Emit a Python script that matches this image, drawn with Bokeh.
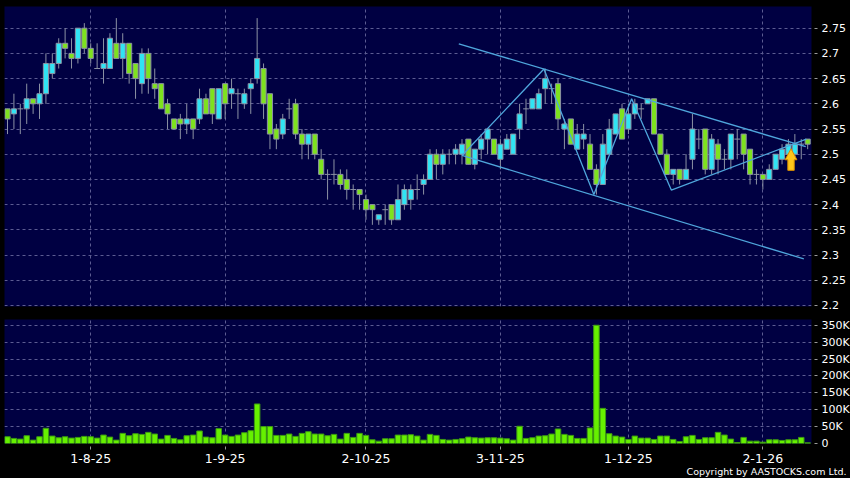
from bokeh.plotting import figure
from bokeh.layouts import column
from bokeh.models import Range1d, FixedTicker, Title
from bokeh.embed import file_html
from bokeh.resources import INLINE

# ---------------- data ----------------
opens = [2.59, 2.58, 2.59, 2.59, 2.61, 2.60, 2.62, 2.66, 2.68, 2.72,
         2.70, 2.69, 2.75, 2.71, 2.67, 2.67, 2.67, 2.72, 2.69, 2.72,
         2.68, 2.64, 2.70, 2.64, 2.64, 2.60, 2.57, 2.57, 2.56, 2.57,
         2.57, 2.61, 2.63, 2.57, 2.64, 2.62, 2.62, 2.60, 2.63, 2.65,
         2.67, 2.62, 2.55, 2.54, 2.59, 2.60, 2.54, 2.52, 2.54, 2.49,
         2.46, 2.46, 2.46, 2.45, 2.43, 2.43, 2.41, 2.40, 2.37, 2.39,
         2.40, 2.37, 2.40, 2.41, 2.43, 2.44, 2.45, 2.50, 2.48, 2.50,
         2.50, 2.50, 2.53, 2.48, 2.51, 2.53, 2.53, 2.49, 2.51, 2.50,
         2.55, 2.59, 2.59, 2.59, 2.63, 2.63, 2.64, 2.55, 2.57, 2.51,
         2.53, 2.52, 2.47, 2.44, 2.50, 2.54, 2.59, 2.55, 2.58, 2.59,
         2.60, 2.61, 2.54, 2.50, 2.46, 2.47, 2.45, 2.49, 2.53, 2.55,
         2.47, 2.52, 2.49, 2.49, 2.53, 2.54, 2.51, 2.46, 2.46, 2.45,
         2.47, 2.49, 2.50, 2.50, 2.52, 2.53]
highs = [2.59, 2.62, 2.60, 2.64, 2.61, 2.64, 2.70, 2.70, 2.73, 2.75,
         2.73, 2.75, 2.76, 2.72, 2.72, 2.73, 2.74, 2.77, 2.74, 2.72,
         2.68, 2.71, 2.71, 2.67, 2.64, 2.61, 2.57, 2.58, 2.60, 2.57,
         2.63, 2.62, 2.63, 2.63, 2.64, 2.65, 2.63, 2.63, 2.65, 2.77,
         2.68, 2.62, 2.56, 2.58, 2.61, 2.61, 2.55, 2.54, 2.54, 2.51,
         2.47, 2.49, 2.47, 2.47, 2.44, 2.43, 2.42, 2.40, 2.38, 2.40,
         2.40, 2.44, 2.44, 2.44, 2.46, 2.46, 2.51, 2.51, 2.51, 2.51,
         2.52, 2.53, 2.53, 2.51, 2.54, 2.55, 2.53, 2.53, 2.54, 2.54,
         2.60, 2.61, 2.61, 2.63, 2.67, 2.64, 2.65, 2.57, 2.57, 2.56,
         2.56, 2.54, 2.48, 2.54, 2.57, 2.58, 2.60, 2.60, 2.61, 2.60,
         2.61, 2.61, 2.54, 2.51, 2.47, 2.47, 2.50, 2.58, 2.55, 2.55,
         2.54, 2.53, 2.51, 2.54, 2.55, 2.54, 2.51, 2.47, 2.46, 2.48,
         2.50, 2.52, 2.53, 2.54, 2.53, 2.53]
lows = [2.54, 2.55, 2.54, 2.56, 2.58, 2.57, 2.60, 2.65, 2.67, 2.69,
        2.67, 2.68, 2.70, 2.68, 2.67, 2.64, 2.67, 2.69, 2.65, 2.64,
        2.61, 2.62, 2.62, 2.61, 2.59, 2.55, 2.55, 2.53, 2.54, 2.53,
        2.56, 2.58, 2.56, 2.57, 2.57, 2.59, 2.57, 2.59, 2.58, 2.64,
        2.57, 2.51, 2.51, 2.53, 2.57, 2.53, 2.49, 2.49, 2.49, 2.45,
        2.41, 2.44, 2.43, 2.41, 2.39, 2.39, 2.37, 2.36, 2.36, 2.36,
        2.36, 2.37, 2.39, 2.39, 2.41, 2.42, 2.45, 2.45, 2.46, 2.48,
        2.48, 2.48, 2.48, 2.47, 2.49, 2.50, 2.50, 2.47, 2.51, 2.50,
        2.53, 2.56, 2.59, 2.59, 2.60, 2.60, 2.55, 2.51, 2.52, 2.51,
        2.51, 2.47, 2.42, 2.44, 2.50, 2.54, 2.53, 2.54, 2.57, 2.57,
        2.60, 2.54, 2.50, 2.46, 2.44, 2.44, 2.45, 2.47, 2.51, 2.46,
        2.46, 2.46, 2.47, 2.47, 2.49, 2.47, 2.44, 2.44, 2.43, 2.45,
        2.47, 2.48, 2.48, 2.49, 2.49, 2.51]
closes = [2.57, 2.59, 2.59, 2.61, 2.60, 2.62, 2.68, 2.68, 2.72, 2.71,
          2.69, 2.75, 2.71, 2.69, 2.67, 2.68, 2.73, 2.69, 2.72, 2.66,
          2.65, 2.70, 2.65, 2.63, 2.59, 2.58, 2.55, 2.56, 2.57, 2.55,
          2.61, 2.58, 2.58, 2.63, 2.60, 2.63, 2.62, 2.62, 2.64, 2.69,
          2.60, 2.54, 2.53, 2.57, 2.59, 2.54, 2.52, 2.54, 2.50, 2.46,
          2.46, 2.46, 2.44, 2.43, 2.43, 2.42, 2.39, 2.39, 2.38, 2.39,
          2.37, 2.41, 2.43, 2.43, 2.43, 2.45, 2.50, 2.48, 2.50, 2.50,
          2.51, 2.52, 2.48, 2.51, 2.53, 2.55, 2.50, 2.52, 2.53, 2.54,
          2.58, 2.59, 2.61, 2.62, 2.65, 2.63, 2.57, 2.56, 2.52, 2.54,
          2.54, 2.47, 2.44, 2.52, 2.55, 2.58, 2.53, 2.58, 2.60, 2.59,
          2.61, 2.54, 2.50, 2.46, 2.47, 2.45, 2.47, 2.55, 2.53, 2.47,
          2.53, 2.49, 2.49, 2.54, 2.53, 2.50, 2.46, 2.46, 2.45, 2.47,
          2.50, 2.51, 2.52, 2.52, 2.52, 2.52]
volumes_k = [20, 15, 13, 23, 10, 20, 45, 22, 17, 20,
             16, 18, 21, 20, 16, 25, 19, 10, 30, 23,
             29, 27, 33, 28, 13, 24, 15, 11, 23, 25,
             37, 19, 17, 44, 25, 21, 25, 32, 38, 117,
             50, 50, 24, 24, 28, 21, 30, 35, 28, 28,
             23, 27, 13, 30, 18, 30, 24, 11, 7, 14,
             14, 25, 25, 26, 22, 10, 27, 24, 12, 10,
             12, 14, 19, 17, 16, 17, 17, 16, 14, 10,
             51, 15, 17, 22, 23, 28, 43, 27, 24, 15,
             15, 46, 350, 104, 29, 22, 19, 12, 22, 16,
             16, 12, 22, 22, 12, 6, 20, 24, 12, 17,
             17, 33, 25, 13, 3, 18, 7, 7, 4, 11,
             11, 9, 11, 11, 18, 2]

date_pos = [13, 34, 56, 77, 97, 118]
date_labels = ["1-8-25", "1-9-25", "2-10-25", "3-11-25", "1-12-25", "2-1-26"]
price_ticks = [2.2, 2.25, 2.3, 2.35, 2.4, 2.45, 2.5, 2.55, 2.6, 2.65, 2.7, 2.75]
price_labels = ["2.2", "2.25", "2.3", "2.35", "2.4", "2.45", "2.5", "2.55", "2.6", "2.65", "2.7", "2.75"]
vol_ticks = [0, 50000, 100000, 150000, 200000, 250000, 300000, 350000]
vol_labels = ["0", "50K", "100K", "150K", "200K", "250K", "300K", "350K"]

# drawn pattern lines (index, price)
zigzag_x = [71.0, 83.8, 91.6, 97.5, 103.7, 124.8]
zigzag_y = [2.4975, 2.669, 2.420, 2.610, 2.429, 2.530]
upper_x = [70.5, 124.7]
upper_y = [2.719, 2.515]
lower_x = [71.0, 124.4]
lower_y = [2.4975, 2.2925]
arrow_at = 122.4
arrow_tip, arrow_neck, arrow_base = 2.511, 2.489, 2.468
arrow_head_half, arrow_shaft_half = 0.92, 0.5

# ---------------- styles ----------------
NAVY = "#000042"
CYAN = "#30E4F4"
GREEN = "#7EE21E"
EDGE = "#8c92a4"
GRID = "#5c5c92"
TREND = "#4FA6DC"
FONT = "DejaVu Sans"

n = len(opens)
idx = list(range(n))

up = [i for i in idx if closes[i] > opens[i]]
dn = [i for i in idx if closes[i] < opens[i]]
dj = [i for i in idx if closes[i] == opens[i]]

x_range = Range1d(-0.47, 125.6)

p = figure(frame_width=807, frame_height=300, x_range=x_range, y_range=Range1d(2.198, 2.793),
           x_axis_location=None, y_axis_location="right",
           output_backend="svg", toolbar_location=None,
           min_border_left=0, min_border_top=0, min_border_bottom=7, min_border_right=39,
           background_fill_color=NAVY, border_fill_color="#000000", outline_line_color=None)

for g, tk in ((p.xgrid, date_pos), (p.ygrid, price_ticks)):
    g.ticker = FixedTicker(ticks=tk)
    g.grid_line_color = GRID
    g.grid_line_dash = "3 3"
    g.grid_line_width = 1

ya = p.yaxis[0]
ya.ticker = FixedTicker(ticks=price_ticks)
ya.major_label_overrides = {t: l for t, l in zip(price_ticks, price_labels)}
ya.axis_line_color = None
ya.major_tick_in = -3
ya.major_tick_out = 6
ya.major_tick_line_color = "#9a9a9a"
ya.minor_tick_line_color = None
ya.major_label_standoff = 4
ya.major_label_text_color = "#ffffff"
ya.major_label_text_font = FONT
ya.major_label_text_font_size = "11px"

# wicks
p.segment(x0=idx, y0=lows, x1=idx, y1=highs, line_color=EDGE, line_width=1)
# bodies
p.vbar(x=up, top=[closes[i] for i in up], bottom=[opens[i] for i in up], width=0.8,
       fill_color=CYAN, line_color=EDGE, line_width=1)
p.vbar(x=dn, top=[opens[i] for i in dn], bottom=[closes[i] for i in dn], width=0.8,
       fill_color=GREEN, line_color=EDGE, line_width=1)
p.segment(x0=[i - 0.45 for i in dj], y0=[opens[i] for i in dj],
          x1=[i + 0.45 for i in dj], y1=[closes[i] for i in dj], line_color=EDGE, line_width=1)

# pattern lines
p.line(zigzag_x, zigzag_y, line_color=TREND, line_width=1.3)
p.line(upper_x, upper_y, line_color=TREND, line_width=1.3)
p.line(lower_x, lower_y, line_color=TREND, line_width=1.3)

# arrow
ax = [arrow_at, arrow_at + arrow_head_half, arrow_at + arrow_shaft_half, arrow_at + arrow_shaft_half,
      arrow_at - arrow_shaft_half, arrow_at - arrow_shaft_half, arrow_at - arrow_head_half]
ay = [arrow_tip, arrow_neck, arrow_neck, arrow_base, arrow_base, arrow_neck, arrow_neck]
p.patch(ax, ay, fill_color="#FFC61A", line_color="#D98E00", line_width=1)

# ---------------- volume ----------------
v = figure(frame_width=807, frame_height=124, x_range=x_range, y_range=Range1d(0, 367000),
           y_axis_location="right", output_backend="svg", toolbar_location=None,
           min_border_left=0, min_border_top=6, min_border_bottom=35, min_border_right=39,
           background_fill_color=NAVY, border_fill_color="#000000", outline_line_color=None)

for g, tk in ((v.xgrid, date_pos), (v.ygrid, vol_ticks)):
    g.ticker = FixedTicker(ticks=tk)
    g.grid_line_color = GRID
    g.grid_line_dash = "3 3"
    g.grid_line_width = 1

for axis, tk, lb, fs in ((v.yaxis[0], vol_ticks, vol_labels, "11px"),
                         (v.xaxis[0], date_pos, date_labels, "12.5px")):
    axis.ticker = FixedTicker(ticks=tk)
    axis.major_label_overrides = {t: l for t, l in zip(tk, lb)}
    axis.axis_line_color = None
    axis.major_tick_in = -3
    axis.major_tick_out = 6
    axis.major_tick_line_color = "#9a9a9a"
    axis.minor_tick_line_color = None
    axis.major_label_standoff = 4
    axis.major_label_text_color = "#ffffff"
    axis.major_label_text_font = FONT
    axis.major_label_text_font_size = fs

v.vbar(x=idx, top=[k * 1000 for k in volumes_k], bottom=0, width=0.86,
       fill_color="#66F000", line_color="#3C9A12", line_width=1)

v.add_layout(Title(text="Copyright by AASTOCKS.com Ltd.", align="right", offset=-35, standoff=-3,
                   text_color="#ffffff", text_font=FONT, text_font_size="9.5px",
                   text_font_style="normal"), "below")

layout = column(p, v, spacing=0, margin=(6, 0, 0, 4),
                styles={"box-shadow": "0 0 0 14px #000000", "background-color": "#000000"})

open("out.html", "w").write(file_html(layout, INLINE))
